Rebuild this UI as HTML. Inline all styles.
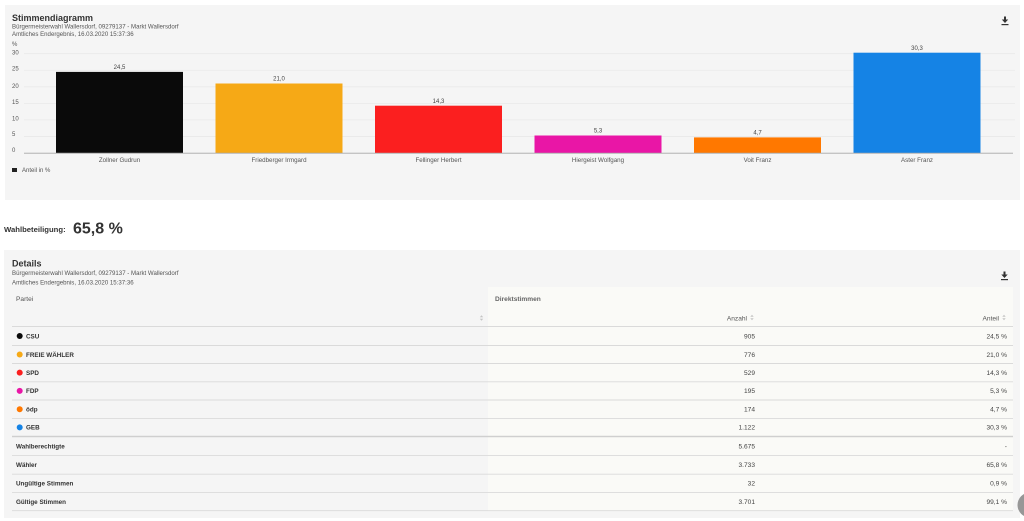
<!DOCTYPE html>
<html><head><meta charset="utf-8"><style>
html,body{margin:0;padding:0;background:#fff;}
body{width:1024px;height:521px;overflow:hidden;}
svg{display:block;font-family:"Liberation Sans",sans-serif;}
</style></head><body>
<svg width="1024" height="521" viewBox="0 0 1024 521" xmlns="http://www.w3.org/2000/svg">
<!-- chart panel -->
<rect x="5" y="5" width="1015" height="195" fill="#f5f5f5"/>
<text x="12" y="21" font-size="9" font-weight="bold" fill="#333">Stimmendiagramm</text>
<text x="12" y="28.6" font-size="6.1" fill="#555">Bürgermeisterwahl Wallersdorf, 09279137 - Markt Wallersdorf</text>
<text x="12" y="36.2" font-size="6.1" fill="#555">Amtliches Endergebnis, 16.03.2020 15:37:36</text>
<!-- download icon -->
<g fill="#333"><rect x="1004" y="16.5" width="2" height="3.5"/><polygon points="1001.8,19.5 1008.2,19.5 1005,23"/><rect x="1001.5" y="24" width="7" height="1.2"/></g>
<!-- grid -->
<g stroke="#e9e9e9" stroke-width="0.8">
<line x1="24" y1="53.7" x2="1015" y2="53.7"/>
<line x1="24" y1="70.25" x2="1015" y2="70.25"/>
<line x1="24" y1="86.8" x2="1015" y2="86.8"/>
<line x1="24" y1="103.35" x2="1015" y2="103.35"/>
<line x1="24" y1="119.9" x2="1015" y2="119.9"/>
<line x1="24" y1="136.45" x2="1015" y2="136.45"/>
</g>
<g font-size="6" fill="#555">
<text x="12" y="46">%</text>
<text x="12" y="54.7">30</text>
<text x="12" y="70.5">25</text>
<text x="12" y="87.8">20</text>
<text x="12" y="103.8">15</text>
<text x="12" y="120.4">10</text>
<text x="12" y="136.2">5</text>
<text x="12" y="152">0</text>
</g>
<!-- bars -->
<rect x="56" y="71.9" width="127" height="81.1" fill="#0a0a0a"/>
<rect x="215.5" y="83.5" width="127" height="69.5" fill="#f6a916"/>
<rect x="375" y="105.7" width="127" height="47.3" fill="#fb1f1f"/>
<rect x="534.5" y="135.5" width="127" height="17.5" fill="#e916a6"/>
<rect x="694" y="137.4" width="127" height="15.6" fill="#ff7800"/>
<rect x="853.5" y="52.7" width="127" height="100.3" fill="#1583e5"/>
<line x1="24" y1="153.2" x2="1013" y2="153.2" stroke="#a8a8a8" stroke-width="0.9"/>
<g font-size="6" fill="#444" text-anchor="middle">
<text x="119.5" y="69">24,5</text>
<text x="279" y="80.6">21,0</text>
<text x="438.5" y="102.8">14,3</text>
<text x="598" y="132.6">5,3</text>
<text x="757.5" y="134.5">4,7</text>
<text x="917" y="49.8">30,3</text>
</g>
<g font-size="6.2" fill="#555" text-anchor="middle">
<text x="119.5" y="162.2">Zollner Gudrun</text>
<text x="279" y="162.2">Friedberger Irmgard</text>
<text x="438.5" y="162.2">Fellinger Herbert</text>
<text x="598" y="162.2">Hiergeist Wolfgang</text>
<text x="757.5" y="162.2">Voit Franz</text>
<text x="917" y="162.2">Aster Franz</text>
</g>
<rect x="12" y="168" width="5" height="4" fill="#222"/>
<text x="22" y="172.2" font-size="6" fill="#555">Anteil in %</text>

<!-- Wahlbeteiligung -->
<text x="4" y="231.8" font-size="7.7" font-weight="bold" fill="#333">Wahlbeteiligung:</text>
<text x="73" y="233.3" font-size="16" font-weight="bold" fill="#333">65,8 %</text>

<!-- details panel -->
<rect x="4" y="250" width="1016" height="268" fill="#f5f5f5"/>
<text x="12" y="266.7" font-size="9" font-weight="bold" fill="#333">Details</text>
<text x="12" y="275.2" font-size="6.1" fill="#555">Bürgermeisterwahl Wallersdorf, 09279137 - Markt Wallersdorf</text>
<text x="12" y="284.4" font-size="6.1" fill="#555">Amtliches Endergebnis, 16.03.2020 15:37:36</text>
<g fill="#333"><rect x="1003.5" y="271.5" width="2" height="3.5"/><polygon points="1001.3,274.5 1007.7,274.5 1004.5,278"/><rect x="1001" y="279" width="7" height="1.2"/></g>

<rect x="488" y="287" width="525" height="224" fill="#fafaf7"/>
<text x="16" y="301" font-size="6.6" fill="#555">Partei</text>
<text x="495" y="301" font-size="6.6" font-weight="bold" fill="#666">Direktstimmen</text>
<g font-size="6.6" fill="#555" text-anchor="end">
<text x="747" y="320.3">Anzahl</text>
<text x="999" y="320.3">Anteil</text>
</g>
<g fill="#c4c4c4">
<polygon points="479.8,317.3 483.2,317.3 481.5,315.3"/><polygon points="479.8,318.8 483.2,318.8 481.5,320.8"/>
<polygon points="750.3,316.8 753.7,316.8 752,314.8"/><polygon points="750.3,318.3 753.7,318.3 752,320.3"/>
<polygon points="1002.3,316.8 1005.7,316.8 1004,314.8"/><polygon points="1002.3,318.3 1005.7,318.3 1004,320.3"/>
</g>

<g stroke="#dadada" stroke-width="0.9">
<line x1="12" y1="326.5" x2="1013" y2="326.5"/>
<line x1="12" y1="345.5" x2="1013" y2="345.5"/>
<line x1="12" y1="363.5" x2="1013" y2="363.5"/>
<line x1="12" y1="381.8" x2="1013" y2="381.8"/>
<line x1="12" y1="400" x2="1013" y2="400"/>
<line x1="12" y1="418.4" x2="1013" y2="418.4"/>
<line x1="12" y1="455.6" x2="1013" y2="455.6"/>
<line x1="12" y1="474.2" x2="1013" y2="474.2"/>
<line x1="12" y1="492.4" x2="1013" y2="492.4"/>
<line x1="12" y1="510.7" x2="1013" y2="510.7"/>
</g>
<line x1="12" y1="436.5" x2="1013" y2="436.5" stroke="#cfcfcf" stroke-width="1.6"/>

<circle cx="19.7" cy="336" r="3" fill="#0a0a0a"/>
<circle cx="19.7" cy="354.5" r="3" fill="#f6a916"/>
<circle cx="19.7" cy="372.6" r="3" fill="#fb1f1f"/>
<circle cx="19.7" cy="390.9" r="3" fill="#e916a6"/>
<circle cx="19.7" cy="409.2" r="3" fill="#ff7800"/>
<circle cx="19.7" cy="427.4" r="3" fill="#1583e5"/>

<g font-size="6.3" font-weight="bold" fill="#333">
<text x="26" y="338.3">CSU</text>
<text x="26" y="356.8">FREIE WÄHLER</text>
<text x="26" y="374.9">SPD</text>
<text x="26" y="393.2">FDP</text>
<text x="26" y="411.5">ödp</text>
<text x="26" y="429.7">GEB</text>
<text x="16" y="448.3">Wahlberechtigte</text>
<text x="16" y="467.2">Wähler</text>
<text x="16" y="485.6">Ungültige Stimmen</text>
<text x="16" y="503.8">Gültige Stimmen</text>
</g>
<g font-size="6.6" fill="#444" text-anchor="end">
<text x="755" y="338.3">905</text>
<text x="755" y="356.8">776</text>
<text x="755" y="374.9">529</text>
<text x="755" y="393.2">195</text>
<text x="755" y="411.5">174</text>
<text x="755" y="429.7">1.122</text>
<text x="755" y="448.3">5.675</text>
<text x="755" y="467.2">3.733</text>
<text x="755" y="485.6">32</text>
<text x="755" y="503.8">3.701</text>
<text x="1007" y="338.3">24,5 %</text>
<text x="1007" y="356.8">21,0 %</text>
<text x="1007" y="374.9">14,3 %</text>
<text x="1007" y="393.2">5,3 %</text>
<text x="1007" y="411.5">4,7 %</text>
<text x="1007" y="429.7">30,3 %</text>
<text x="1007" y="448.3">-</text>
<text x="1007" y="467.2">65,8 %</text>
<text x="1007" y="485.6">0,9 %</text>
<text x="1007" y="503.8">99,1 %</text>
</g>

<circle cx="1030" cy="505" r="12.5" fill="#979797"/>
</svg>
</body></html>
